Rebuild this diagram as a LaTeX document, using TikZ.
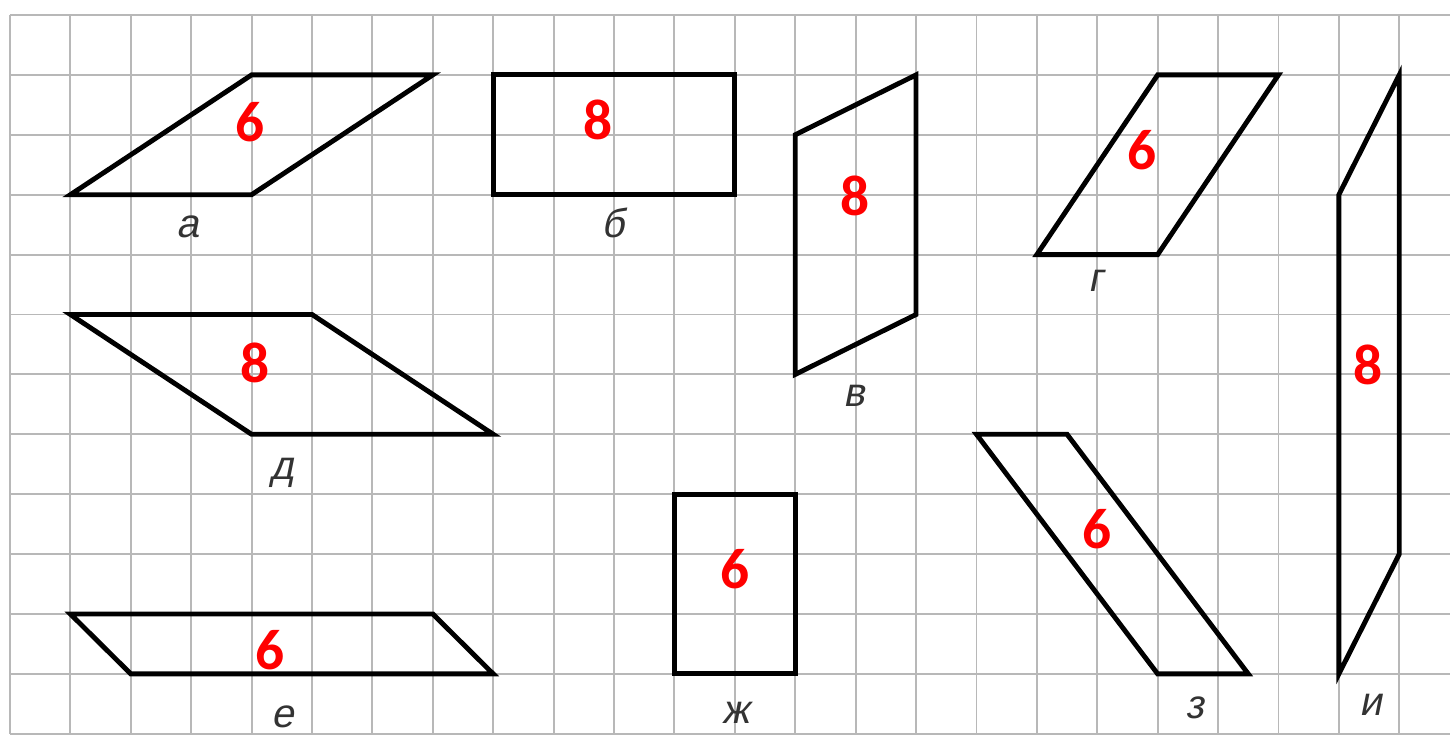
\documentclass[tikz,border=0pt]{standalone}
\usepackage{fontspec}
\newfontfamily\labfont[FakeSlant=0.2]{Liberation Sans}
\newfontfamily\numfont{Carlito}
\begin{document}
\begin{tikzpicture}[x=1cm,y=-0.9917cm,
  gridline/.style={draw=black!28, line width=0.9pt},
  figure/.style={draw=black, line width=2.3pt, line join=miter},
  num/.style={text=red, font=\numfont\bfseries\fontsize{27}{27}\selectfont, inner sep=0pt},
  letter/.style={text=black!80, font=\labfont\fontsize{19}{19}\selectfont, inner sep=0pt, anchor=base}]
\useasboundingbox (-0.1656,-0.2504) rectangle (23.84,12.137);
\begin{scope}
  \clip (-0.1656,-0.2504) rectangle (23.84,12.137);
  \foreach \i in {0,...,24} \draw[gridline] (\i,0) -- (\i,12);
  \foreach \j in {0,...,12} \draw[gridline] (0,\j) -- (24,\j);
\end{scope}

% figures
\draw[figure] (1,3) -- (4,3) -- (7,1) -- (4,1) -- cycle;          % a
\draw[figure] (8,1) rectangle (12,3);                                % b
\draw[figure] (13,2) -- (15,1) -- (15,5) -- (13,6) -- cycle;        % v
\draw[figure] (17,4) -- (19,4) -- (21,1) -- (19,1) -- cycle;        % g
\draw[figure] (1,5) -- (5,5) -- (8,7) -- (4,7) -- cycle;            % d
\draw[figure] (1,10) -- (7,10) -- (8,11) -- (2,11) -- cycle;        % e
\draw[figure] (11,8) rectangle (13,11);                              % zh
\draw[figure] (16,7) -- (17.5,7) -- (20.5,11) -- (19,11) -- cycle;  % z
\draw[figure] (22,3) -- (23,1) -- (23,9) -- (22,11) -- cycle;       % i

% red numbers
\node[num] (na) at (3.97,1.79) {6};
\node[num] (nb) at (9.74,1.76) {8};
\node[num] (nv) at (13.99,3.02) {8};
\node[num] (ng) at (18.74,2.26) {6};
\node[num] (nd) at (4.06,5.80) {8};
\node[num] (ne) at (4.30,10.60) {6};
\node[num] (nzh) at (12.0,9.25) {6};
\node[num] (nz) at (18.0,8.58) {6};
\node[num] (ni) at (22.48,5.84) {8};

% letters
\node[letter] (la) at (2.95,3.72) {а};
\node[letter] (lb) at (9.98,3.71) {б};
\node[letter] (lv) at (13.97,6.54) {в};
\node[letter] (lg) at (17.98,4.62) {г};
\node[letter] (ld) at (4.51,7.76) {д};
\node[letter] (le) at (4.52,11.89) {е};
\node[letter] (lzh) at (12.02,11.82) {ж};
\node[letter] (lz) at (19.62,11.74) {з};
\node[letter] (li) at (22.52,11.69) {и};
\end{tikzpicture}
\end{document}
